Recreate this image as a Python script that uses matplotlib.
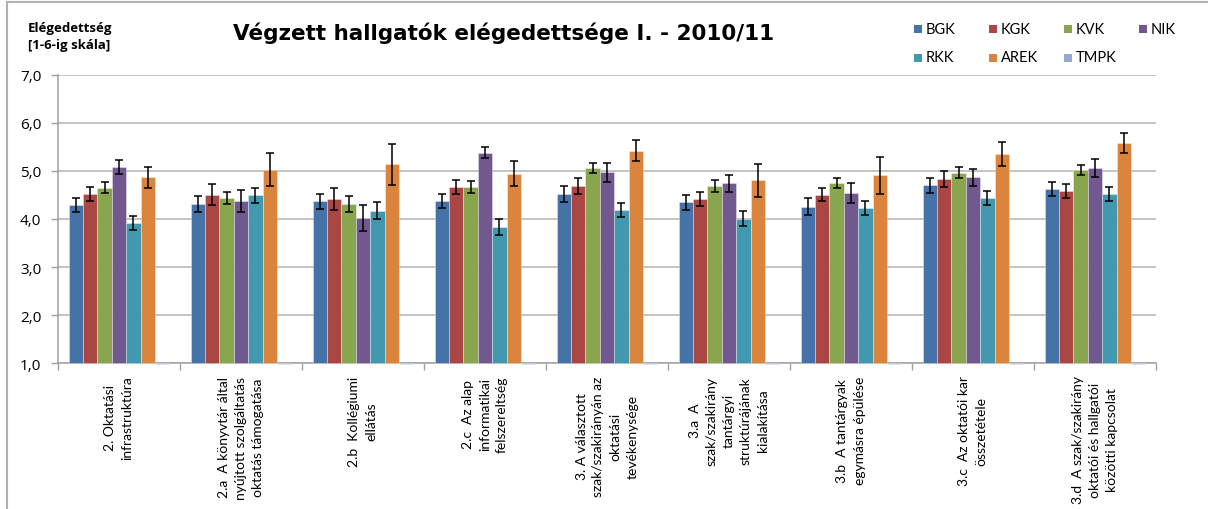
import numpy as np
import matplotlib
matplotlib.use("Agg")
import matplotlib.pyplot as plt
from matplotlib.patches import Rectangle
from matplotlib.lines import Line2D

plt.rcParams['font.family'] = ['Lato', 'DejaVu Sans']

categories = [
    "2. Oktatási\ninfrastruktúra",
    "2.a  A könyvtár által\nnyújtott szolgáltatás\noktatás támogatása",
    "2.b  Kollégiumi\nellátás",
    "2.c  Az alap\ninformatikai\nfelszereltség",
    "3. A választott\nszak/szakirányán az\noktatási\ntevékenysége",
    "3.a  A\nszak/szakirány\ntantárgyi\nstruktúrájának\nkialakítása",
    "3.b  A tantárgyak\negymásra épülése",
    "3.c  Az oktatói kar\nösszetétele",
    "3.d  A szak/szakirány\noktatói és hallgatói\nközötti kapcsolat",
]

series_names = ["BGK", "KGK", "KVK", "NIK", "RKK", "AREK", "TMPK"]
colors = ["#4572A7", "#AA4643", "#89A54E", "#71588F", "#4198AF", "#DB843D", "#93A9CF"]

bgk = [4.29, 4.31, 4.37, 4.37, 4.52, 4.35, 4.26, 4.70, 4.62]
kgk = [4.52, 4.51, 4.42, 4.67, 4.69, 4.42, 4.51, 4.84, 4.58]
kvk = [4.65, 4.44, 4.31, 4.67, 5.06, 4.69, 4.75, 4.96, 5.02]
nik = [5.08, 4.37, 4.03, 5.38, 4.97, 4.74, 4.54, 4.87, 5.07]
rkk = [3.92, 4.49, 4.17, 3.83, 4.19, 4.01, 4.23, 4.44, 4.52]
arek = [4.87, 5.03, 5.14, 4.94, 5.42, 4.81, 4.91, 5.35, 5.58]
tmpk = [0.97, 0.97, 0.97, 0.97, 0.97, 0.97, 0.97, 0.97, 0.97]

bgk_err = [0.15, 0.16, 0.16, 0.15, 0.165, 0.16, 0.17, 0.16, 0.15]
kgk_err = [0.15, 0.215, 0.23, 0.15, 0.17, 0.15, 0.145, 0.17, 0.15]
kvk_err = [0.115, 0.12, 0.17, 0.12, 0.11, 0.12, 0.11, 0.115, 0.11]
nik_err = [0.15, 0.23, 0.27, 0.115, 0.19, 0.18, 0.2, 0.18, 0.185]
rkk_err = [0.14, 0.16, 0.175, 0.17, 0.15, 0.16, 0.15, 0.15, 0.14]
arek_err = [0.22, 0.35, 0.43, 0.26, 0.22, 0.345, 0.39, 0.25, 0.21]

values = [bgk, kgk, kvk, nik, rkk, arek, tmpk]
errors = [bgk_err, kgk_err, kvk_err, nik_err, rkk_err, arek_err, None]

W, H = 1208, 510
fig = plt.figure(figsize=(W / 100, H / 100), dpi=100)
ax = fig.add_axes([58 / W, 1 - 364 / H, (1156 - 58) / W, (364 - 76) / H])

x = np.arange(len(categories))
w = 1 / 8.5

for i, (name, vals) in enumerate(zip(series_names, values)):
    vals = np.array(vals)
    pos = x + (i - 3) * w
    ax.bar(pos, vals - 1, bottom=1, width=w, color=colors[i],
           edgecolor=(1, 1, 1, 0.5), linewidth=0.5, zorder=3, clip_on=False)
    if errors[i] is not None:
        ax.errorbar(pos, vals, yerr=errors[i], fmt='none', ecolor='black',
                    elinewidth=1.1, capsize=2.6, capthick=1.1, zorder=4)

ax.set_xlim(-0.5, len(categories) - 0.5)
ax.set_ylim(1, 7)
ax.set_yticks(np.arange(1, 8))
ax.set_yticklabels([f"{v:.1f}".replace('.', ',') for v in np.arange(1, 8)],
                   fontfamily=['Open Sans', 'DejaVu Sans'])
ax.yaxis.grid(True, color='#B3B3B3', linewidth=1.1, zorder=0)
ax.set_axisbelow(True)

ax.set_xticks(x)
ax.set_xticklabels(categories, rotation=90, ha='center', va='top',
                   multialignment='center', linespacing=1.5)
ax.set_xticks(np.arange(-0.5, len(categories)), minor=True)
ax.tick_params(axis='x', which='major', length=0, pad=9, labelsize=10, colors='black')
ax.tick_params(axis='x', which='minor', length=5, width=1, color='#A0A0A0', direction='out')
ax.tick_params(axis='y', length=5, width=1, color='#A0A0A0', labelsize=11, pad=7)

for s in ['top', 'right']:
    ax.spines[s].set_visible(False)
for s in ['left', 'bottom']:
    ax.spines[s].set_color('#A0A0A0')
    ax.spines[s].set_linewidth(1.1)

fig.text(504 / W, 1 - 33 / H, "Végzett hallgatók elégedettsége I. - 2010/11",
         ha='center', va='center', fontsize=15.5, fontweight='bold',
         family=['DejaVu Sans'])
fig.text(28 / W, 1 - 37 / H, "Elégedettség\n[1-6-ig skála]", ha='left', va='center',
         fontsize=9.5, fontweight='bold', linespacing=1.45,
         family=['Open Sans', 'DejaVu Sans'])

# legend
for i, name in enumerate(series_names):
    col, row = i % 4, i // 4
    lx = 914 + col * 75
    ly = 29.5 + row * 29
    fig.add_artist(Rectangle((lx / W, 1 - (ly + 4) / H), 8 / W, 8 / H,
                             transform=fig.transFigure, facecolor=colors[i], edgecolor='none'))
    fig.text((lx + 12) / W, 1 - ly / H, name, ha='left', va='center', fontsize=10.5)

# chart border
fig.add_artist(Line2D([7.5 / W, 7.5 / W], [0, 1 - 3 / H], transform=fig.transFigure,
                      color='#B0B0B0', linewidth=1.5))
fig.add_artist(Line2D([7.5 / W, 1], [1 - 3 / H, 1 - 3 / H], transform=fig.transFigure,
                      color='#B0B0B0', linewidth=1.5))

fig.savefig("out.png", dpi=100)
